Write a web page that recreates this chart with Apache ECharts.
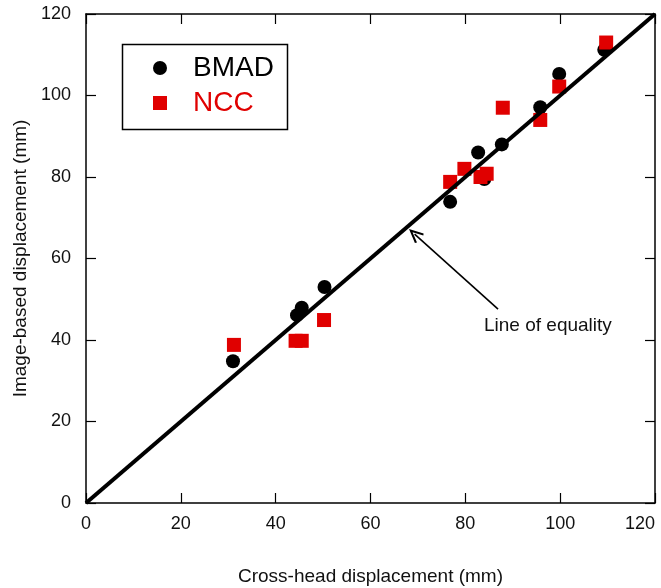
<!DOCTYPE html>
<html>
<head>
<meta charset="utf-8">
<script src="https://cdn.jsdelivr.net/npm/echarts@6/dist/echarts.min.js"></script>
<style>
  html, body { margin: 0; padding: 0; background: #fff; }
  #chart { width: 661px; height: 588px; }
</style>
</head>
<body>
<div id="chart"></div>
<script>
// Cross-head vs image-based displacement (mm)
const axisTicks = [0, 20, 40, 60, 80, 100, 120];

const bmadCross = [31, 44.5, 45.5, 50.3, 76.8, 82.7, 84, 87.7, 95.8, 99.8, 109.3];
const bmadImage = [34.8, 46.1, 47.9, 53.0, 73.9, 86.0, 79.5, 88.0, 97.1, 105.3, 111.2];

const nccCross = [31.2, 44.2, 45.5, 50.2, 76.8, 79.8, 83.2, 84.5, 87.9, 95.8, 99.8, 109.7];
const nccImage = [38.8, 39.8, 39.8, 44.9, 78.8, 82.0, 80.0, 80.8, 97.0, 94.0, 102.2, 113.0];

const equalityLine = [[0, 0], [120, 120]];
const arrowFrom = [86.9, 47.6];
const arrowTo = [69.3, 66.0];

const FONT = '"Liberation Sans", Arial, sans-serif';
const RED = '#e00000';

const pairs = (xs, ys) => xs.map((x, i) => [x, ys[i]]);

const axisBase = {
  type: 'value',
  min: axisTicks[0],
  max: axisTicks[axisTicks.length - 1],
  interval: axisTicks[1] - axisTicks[0],
  splitLine: { show: false },
  axisLine: { show: true, onZero: false, lineStyle: { color: '#000', width: 1.5 } },
  axisTick: { show: true, inside: true, length: 10, lineStyle: { color: '#000', width: 1.2 } },
};

const chart = echarts.init(document.getElementById('chart'), null, { renderer: 'canvas' });

chart.setOption({
  backgroundColor: '#fff',
  animation: false,
  grid: { left: 86, right: 6, top: 14, bottom: 85, containLabel: false, outerBoundsMode: 'none' },
  xAxis: [
    Object.assign({}, axisBase, {
      position: 'bottom',
      name: 'Cross-head displacement (mm)',
      nameLocation: 'middle',
      nameGap: 64,
      nameTextStyle: { fontFamily: FONT, fontSize: 19, color: '#111' },
      axisLabel: { fontFamily: FONT, fontSize: 18, color: '#111', margin: 12, alignMaxLabel: 'right' },
    }),
    Object.assign({}, axisBase, {
      position: 'top',
      axisLabel: { show: false },
    }),
  ],
  yAxis: [
    Object.assign({}, axisBase, {
      position: 'left',
      name: 'Image-based displacement (mm)',
      nameLocation: 'middle',
      nameGap: 55,
      nameTextStyle: { fontFamily: FONT, fontSize: 19, color: '#111' },
      axisLabel: { fontFamily: FONT, fontSize: 18, color: '#111', margin: 15 },
    }),
    Object.assign({}, axisBase, {
      position: 'right',
      axisLabel: { show: false },
    }),
  ],
  legend: {
    orient: 'vertical',
    left: 148,
    top: 49,
    itemWidth: 56,
    itemHeight: 14,
    itemGap: 7,
    selectedMode: false,
    textStyle: { fontFamily: FONT, fontSize: 28, lineHeight: 28 },
    data: [
      { name: 'BMAD', icon: 'circle', textStyle: { color: '#000' } },
      { name: 'NCC', icon: 'path://M0,0H10V10H0Z', textStyle: { color: RED } },
    ],
  },
  graphic: [
    {
      type: 'rect',
      left: 120,
      top: 42,
      shape: { width: 165, height: 85 },
      style: { fill: null, stroke: '#000', lineWidth: 1.5 },
      z: 10,
    },
    {
      type: 'text',
      left: 484,
      top: 316,
      style: { text: 'Line of equality', font: '19px ' + FONT, fill: '#111' },
      z: 10,
    },
  ],
  series: [
    {
      name: 'BMAD',
      type: 'scatter',
      data: pairs(bmadCross, bmadImage),
      symbol: 'circle',
      symbolSize: 14,
      itemStyle: { color: '#000', opacity: 1 },
      z: 2,
    },
    {
      name: 'NCC',
      type: 'scatter',
      data: pairs(nccCross, nccImage),
      symbol: 'rect',
      symbolSize: 14,
      itemStyle: { color: RED, opacity: 1 },
      z: 3,
    },
    {
      name: 'Line of equality',
      type: 'line',
      data: equalityLine,
      showSymbol: false,
      symbol: 'none',
      lineStyle: { color: '#000', width: 4 },
      z: 4,
      markLine: {
        silent: true,
        symbol: ['none', 'path://M0,0L6,11L4.4,12L0,3.8L-4.4,12L-6,11Z'],
        symbolSize: [13, 15],
        lineStyle: { color: '#000', width: 1.6, type: 'solid' },
        label: { show: false },
        data: [[{ coord: arrowFrom }, { coord: arrowTo }]],
      },
    },
  ],
});
</script>
</body>
</html>
